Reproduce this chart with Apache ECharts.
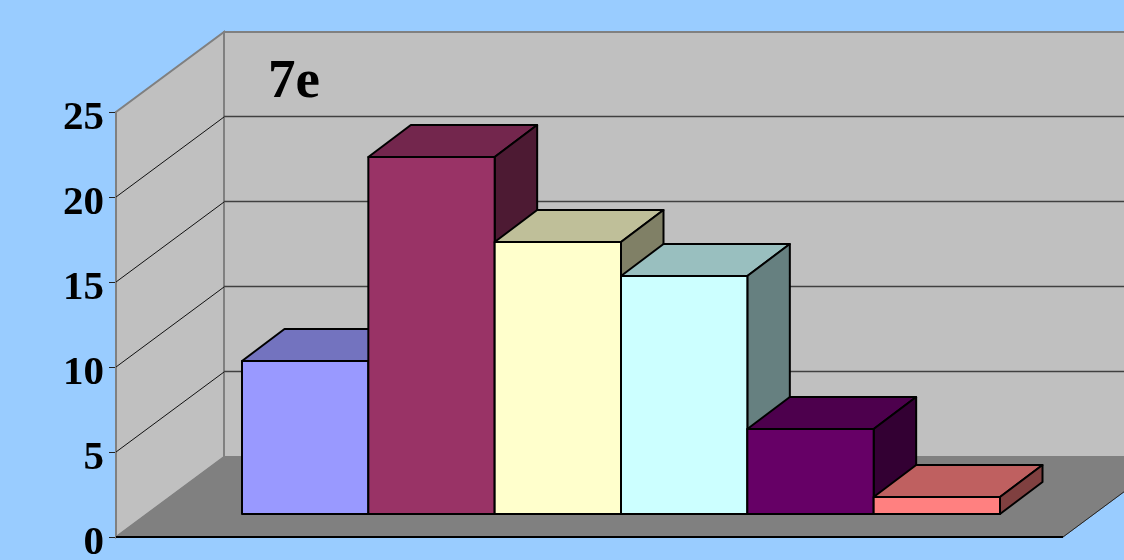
<!DOCTYPE html>
<html>
<head>
<meta charset="utf-8">
<style>html,body{margin:0;padding:0;background:#99ccff;overflow:hidden}#c{width:1124px;height:560px}</style>
<script src="https://cdn.jsdelivr.net/npm/echarts@6/dist/echarts.min.js"></script>
</head>
<body>
<div id="c"></div>
<script>
const categories = ['A', 'A', 'D', 'C', 'S', 'A'];
const values = [9, 21, 16, 14, 5, 1];
const barColors = ['#9999ff', '#993366', '#ffffcc', '#ccffff', '#660066', '#ff8080'];
const gridTicks = [5, 10, 15, 20];
const titleText = '7e';

const serif = '"Liberation Serif", "Times New Roman", serif';
const roomDepth = [108, -80];
const barDepth = [42.5, -32];
const shift = (p, d) => [p[0] + d[0], p[1] + d[1]];
const shade = (hex, k) => {
  const c = echarts.color.parse(hex);
  return 'rgb(' + Math.round(c[0] * k) + ',' + Math.round(c[1] * k) + ',' + Math.round(c[2] * k) + ')';
};

const chart = echarts.init(document.getElementById('c'), null, { renderer: 'canvas' });

function renderRoom(params, api) {
  const fl = api.coord([0, 0]), tl = api.coord([0, 25]), fr = api.coord([1, 0]);
  const bl = shift(fl, roomDepth), btl = shift(tl, roomDepth), br = shift(fr, roomDepth);
  const wallEdge = { stroke: '#808080', lineWidth: 2, fill: '#c0c0c0' };
  const btr = [br[0], btl[1]];
  return { type: 'group', children: [
    { type: 'polygon', shape: { points: [bl, btl, btr, br] }, style: wallEdge },
    { type: 'polygon', shape: { points: [fl, tl, btl, bl] }, style: wallEdge },
    { type: 'polygon', shape: { points: [fl, bl, br, fr] }, style: { fill: '#808080', stroke: '#808080', lineWidth: 1 } },
    { type: 'line', shape: { x1: fr[0], y1: fr[1], x2: br[0], y2: br[1] }, style: { stroke: '#222', lineWidth: 1 } }
  ] };
}

function renderGridline(params, api) {
  const v = api.value(1);
  const f = api.coord([0, v]), b = shift(f, roomDepth), e = [api.coord([1, v])[0] + roomDepth[0], b[1]];
  return { type: 'group', children: [
    { type: 'line', shape: { x1: f[0], y1: f[1], x2: b[0], y2: b[1] }, style: { stroke: '#111', lineWidth: 1 } },
    { type: 'line', shape: { x1: b[0], y1: b[1] - 0.5, x2: e[0], y2: e[1] - 0.5 }, style: { stroke: '#404040', lineWidth: 1.5 } }
  ] };
}

function renderBar(params, api) {
  const i = api.value(0), v = api.value(1);
  const w = api.size([1, 0])[0];
  const top = api.coord([i, v]), base = api.coord([i, 0]);
  const l = top[0] - w / 2, r = top[0] + w / 2;
  const a = [l, top[1]], b = [r, top[1]], c = [r, base[1]], d = [l, base[1]];
  const col = barColors[params.dataIndex];
  const line = { stroke: '#000', lineWidth: 2, lineJoin: 'round' };
  return { type: 'group', children: [
    { type: 'polygon', shape: { points: [a, b, shift(b, barDepth), shift(a, barDepth)] }, style: Object.assign({ fill: shade(col, 0.75) }, line) },
    { type: 'polygon', shape: { points: [b, c, shift(c, barDepth), shift(b, barDepth)] }, style: Object.assign({ fill: shade(col, 0.5) }, line) },
    { type: 'polygon', shape: { points: [a, b, c, d] }, style: Object.assign({ fill: col }, line) }
  ] };
}

chart.setOption({
  animation: false,
  backgroundColor: '#99ccff',
  title: { text: titleText, left: 268, top: 55, padding: 0,
    textStyle: { fontFamily: serif, fontWeight: 'bold', fontSize: 55, color: '#000' } },
  grid: [
    { left: 116, top: 112, width: 947, height: 425, outerBoundsMode: 'none' },
    { left: 242, top: 89, width: 758, height: 425, outerBoundsMode: 'none' }
  ],
  xAxis: [
    { type: 'value', gridIndex: 0, min: 0, max: 1, show: false },
    { type: 'category', gridIndex: 1, data: categories,
      axisLine: { show: false }, axisTick: { show: false }, splitLine: { show: false },
      axisLabel: { margin: 42, color: '#000', fontFamily: serif, fontWeight: 'bold', fontSize: 40, verticalAlign: 'top' } }
  ],
  yAxis: [
    { type: 'value', gridIndex: 0, min: 0, max: 25, interval: 5,
      axisLine: { show: true, lineStyle: { color: '#333', width: 1.5 } },
      axisTick: { show: true, length: 7, lineStyle: { color: '#222', width: 1 } },
      splitLine: { show: false },
      axisLabel: { margin: 12, color: '#000', fontFamily: serif, fontWeight: 'bold', fontSize: 41, verticalAlign: 'top', lineHeight: 12 } },
    { type: 'value', gridIndex: 1, min: 0, max: 25, show: false }
  ],
  series: [
    { type: 'custom', xAxisIndex: 0, yAxisIndex: 0, z: 1, silent: true, renderItem: renderRoom, data: [[0, 0]] },
    { type: 'custom', xAxisIndex: 0, yAxisIndex: 0, z: 2, silent: true, renderItem: renderGridline, data: gridTicks.map(t => [0, t]) },
    { type: 'line', xAxisIndex: 0, yAxisIndex: 0, z: 3, silent: true, symbol: 'none', data: [[0, 0], [1, 0]], lineStyle: { color: '#000', width: 2 } },
    { type: 'custom', xAxisIndex: 1, yAxisIndex: 1, z: 4, silent: true, renderItem: renderBar, encode: { x: 0, y: 1 },
      data: values.map((v, i) => [i, v]) }
  ]
});
</script>
</body>
</html>
